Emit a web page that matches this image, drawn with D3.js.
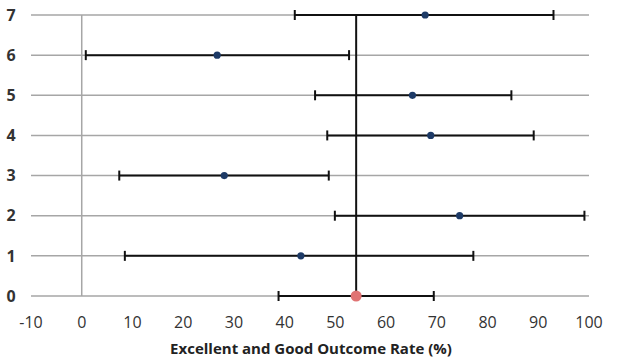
<!DOCTYPE html>
<html>
<head>
<meta charset="utf-8">
<script src="https://cdn.jsdelivr.net/npm/d3@7"></script>
<style>
  html, body { margin: 0; padding: 0; background: #fff; }
  svg text { font-family: "Open Sans", "Liberation Sans", sans-serif; }
</style>
</head>
<body>
<svg id="chart" width="618" height="360"></svg>
<script>
// Study rows (y position) with point estimate and interval bounds
const rows   = [0, 1, 2, 3, 4, 5, 6, 7];
const rates  = [54.1, 43.2, 74.5, 28.1, 68.8, 65.2, 26.7, 67.7];
const lower  = [38.8, 8.5, 49.9, 7.4, 48.4, 46.0, 0.8, 42.0];
const upper  = [69.4, 77.2, 99.1, 48.7, 89.1, 84.7, 52.7, 93.0];
const pooledRate = 54.1;
const xTicks = [-10, 0, 10, 20, 30, 40, 50, 60, 70, 80, 90, 100];
const yTicks = [0, 1, 2, 3, 4, 5, 6, 7];
const xTitle = "Excellent and Good Outcome Rate (%)";

const svg = d3.select("#chart");
const x = d3.scaleLinear().domain([-10, 100]).range([31, 589]);
const y = d3.scaleLinear().domain([0, 7]).range([296, 15]);

// horizontal gridlines
svg.append("g").selectAll("line").data(yTicks).join("line")
  .attr("x1", x(-10)).attr("x2", x(100))
  .attr("y1", d => y(d)).attr("y2", d => y(d))
  .attr("stroke", "#a6a6a6").attr("stroke-width", 1.5);

// zero reference line
svg.append("line")
  .attr("x1", x(0)).attr("x2", x(0)).attr("y1", y(7)).attr("y2", y(0))
  .attr("stroke", "#a6a6a6").attr("stroke-width", 1.5);

// y tick labels
svg.append("g").selectAll("text").data(yTicks).join("text")
  .attr("x", 11).attr("y", d => y(d)).attr("dy", "0.36em")
  .attr("text-anchor", "middle")
  .attr("font-size", 16).attr("font-weight", 700).attr("fill", "#333")
  .text(d => d);

// x tick labels
svg.append("g").selectAll("text").data(xTicks).join("text")
  .attr("x", d => x(d)).attr("y", 322).attr("dy", "0.36em")
  .attr("text-anchor", "middle")
  .attr("font-size", 16).attr("font-weight", 500).attr("fill", "#333")
  .text(d => d);

// axis title
svg.append("text")
  .attr("x", 311).attr("y", 349).attr("dy", "0.36em")
  .attr("text-anchor", "middle")
  .attr("font-size", 15).attr("font-weight", 700).attr("fill", "#222")
  .text(xTitle);

const data = rows.map((r, i) => ({ row: r, rate: rates[i], lo: lower[i], hi: upper[i] }));

// pooled estimate vertical line
svg.append("line")
  .attr("x1", x(pooledRate)).attr("x2", x(pooledRate))
  .attr("y1", y(7)).attr("y2", y(0))
  .attr("stroke", "#111").attr("stroke-width", 2);

// interval bars with end caps
const bars = svg.append("g").selectAll("g").data(data).join("g");
bars.append("line")
  .attr("x1", d => x(d.lo)).attr("x2", d => x(d.hi))
  .attr("y1", d => y(d.row)).attr("y2", d => y(d.row))
  .attr("stroke", "#111").attr("stroke-width", 2);
bars.selectAll("line.cap").data(d => [{ v: d.lo, row: d.row }, { v: d.hi, row: d.row }]).join("line")
  .attr("class", "cap")
  .attr("x1", d => x(d.v)).attr("x2", d => x(d.v))
  .attr("y1", d => y(d.row) - 5).attr("y2", d => y(d.row) + 5)
  .attr("stroke", "#111").attr("stroke-width", 2);

// point estimates
svg.append("g").selectAll("circle").data(data.filter(d => d.row !== 0)).join("circle")
  .attr("cx", d => x(d.rate)).attr("cy", d => y(d.row)).attr("r", 3.6)
  .attr("fill", "#1d3a66");
svg.append("circle")
  .attr("cx", x(rates[0])).attr("cy", y(rows[0])).attr("r", 5.5)
  .attr("fill", "#e07373");
</script>
</body>
</html>
